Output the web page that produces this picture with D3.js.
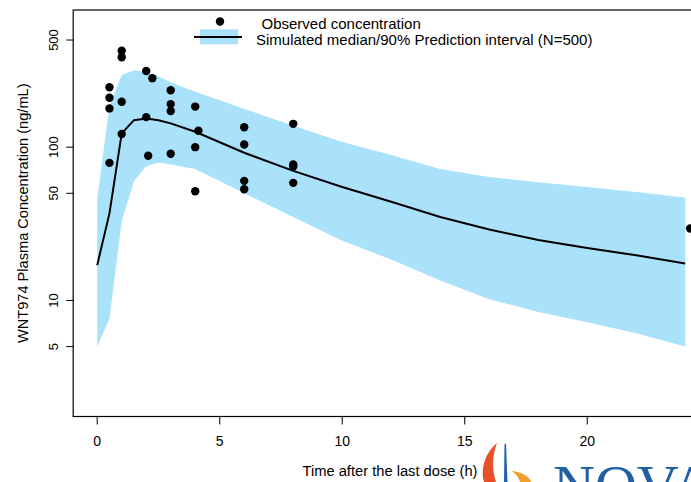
<!DOCTYPE html>
<html>
<head>
<meta charset="utf-8">
<script src="https://cdn.jsdelivr.net/npm/d3@7"></script>
<style>
body { margin: 0; background: #fff; }
text { font-family: "Liberation Sans", Arial, Helvetica, sans-serif; fill: #000; }
</style>
</head>
<body>
<div id="chart"></div>
<script>
// simulated profile (median + 90% PI)
var simTime   = [0, 0.5, 1, 1.5, 2, 2.5, 3, 4, 6, 8, 10, 12, 14, 16, 18, 20, 22, 24];
var simUpper  = [46, 185, 296, 318, 308, 290, 265, 230, 178, 138, 108, 89, 72, 64, 59, 55, 51, 47];
var simLower  = [5, 7.6, 33, 60, 75, 79, 77, 72, 50, 35, 24.5, 18.5, 13.5, 10.2, 8.4, 7.2, 6.1, 5];
var simMedian = [17, 37, 123, 150, 154, 150, 143, 126, 92, 70, 55, 44, 35, 29, 24.8, 22, 19.7, 17.4];

// observed points
var obsTime = [0.5, 0.5, 0.5, 0.5, 1, 1, 1, 1, 2, 2, 2.08, 2.25, 3, 3, 3, 3,
               4, 4.13, 4, 4, 6, 6, 6, 6, 8, 8, 8, 8, 24.2];
var obsConc = [246, 210, 179, 79, 426, 386, 198, 122, 314, 157, 88, 282, 235, 191, 172, 90.5,
               184, 128, 100, 51.6, 135, 104, 60.3, 53.2, 142, 77, 74.7, 58.5, 29.5];

var xTicks = [0, 5, 10, 15, 20];
var yTicks = [5, 10, 50, 100, 500];

var svgW = 691, svgH = 482;
// plot box (right edge falls outside the picture, as in the original)
var boxL = 73.2, boxR = 722, boxT = 10, boxB = 416.5;
var bandColor = "#aae1fb";

var svg = d3.select("#chart").append("svg")
    .attr("width", svgW)
    .attr("height", svgH);

var x = d3.scaleLinear().domain([-0.98, 25.5]).range([boxL, boxR]);
var y = d3.scaleLog().domain([1.75, 785]).range([boxB, boxT]);

svg.append("clipPath").attr("id", "plotclip")
  .append("rect")
    .attr("x", boxL).attr("y", boxT)
    .attr("width", boxR - boxL).attr("height", boxB - boxT);

var sim = simTime.map(function(t, i) {
  return {t: t, hi: simUpper[i], lo: simLower[i], med: simMedian[i]};
});

var plot = svg.append("g").attr("clip-path", "url(#plotclip)");

plot.append("path")
    .datum(sim)
    .attr("fill", bandColor)
    .attr("d", d3.area()
      .x(function(d) { return x(d.t); })
      .y0(function(d) { return y(d.lo); })
      .y1(function(d) { return y(d.hi); }));

plot.append("path")
    .datum(sim)
    .attr("fill", "none")
    .attr("stroke", "#000")
    .attr("stroke-width", 2)
    .attr("d", d3.line()
      .x(function(d) { return x(d.t); })
      .y(function(d) { return y(d.med); }));

plot.selectAll("circle.obs")
    .data(obsTime)
    .enter().append("circle")
    .attr("class", "obs")
    .attr("cx", function(d) { return x(d); })
    .attr("cy", function(d, i) { return y(obsConc[i]); })
    .attr("r", 4.2)
    .attr("fill", "#000");

// box
svg.append("rect")
    .attr("x", boxL).attr("y", boxT)
    .attr("width", boxR - boxL).attr("height", boxB - boxT)
    .attr("fill", "none")
    .attr("stroke", "#000")
    .attr("stroke-width", 1.2);

// x axis
var xAxis = svg.append("g");
xAxis.selectAll("line")
    .data(xTicks).enter().append("line")
    .attr("x1", function(d) { return x(d); })
    .attr("x2", function(d) { return x(d); })
    .attr("y1", boxB).attr("y2", boxB + 8)
    .attr("stroke", "#000");
xAxis.selectAll("text")
    .data(xTicks).enter().append("text")
    .attr("x", function(d) { return x(d); })
    .attr("y", 446)
    .attr("text-anchor", "middle")
    .style("font-size", "14px")
    .text(function(d) { return d; });

// y axis
var yAxis = svg.append("g");
yAxis.selectAll("line")
    .data(yTicks).enter().append("line")
    .attr("x1", boxL - 7).attr("x2", boxL)
    .attr("y1", function(d) { return y(d); })
    .attr("y2", function(d) { return y(d); })
    .attr("stroke", "#000");
yAxis.selectAll("text")
    .data(yTicks).enter().append("text")
    .attr("transform", function(d) { return "translate(57.5," + y(d) + ") rotate(-90)"; })
    .attr("text-anchor", "middle")
    .style("font-size", "13px")
    .text(function(d) { return d; });

// axis titles
svg.append("text")
    .attr("x", 390).attr("y", 476)
    .attr("text-anchor", "middle")
    .style("font-size", "14.7px")
    .text("Time after the last dose (h)");

svg.append("text")
    .attr("transform", "translate(28," + ((boxT + boxB) / 2) + ") rotate(-90)")
    .attr("text-anchor", "middle")
    .style("font-size", "14.6px")
    .text("WNT974 Plasma Concentration (ng/mL)");

// legend
var legend = svg.append("g");
legend.append("circle").attr("cx", 220).attr("cy", 21.5).attr("r", 4.2).attr("fill", "#000");
legend.append("rect").attr("x", 200).attr("y", 29.3).attr("width", 38).attr("height", 15).attr("fill", bandColor);
legend.append("line").attr("x1", 194).attr("x2", 242).attr("y1", 37).attr("y2", 37)
    .attr("stroke", "#000").attr("stroke-width", 2);
legend.append("text").attr("x", 261.5).attr("y", 29.3).style("font-size", "15px")
    .text("Observed concentration");
legend.append("text").attr("x", 256).attr("y", 45).style("font-size", "15px")
    .text("Simulated median/90% Prediction interval (N=500)");

// watermark logo, bottom right (cut by the picture edge in the original too)
var logo = svg.append("g");
logo.append("path")
    .attr("d", "M484,482 C480,468 486,452 497,443 C492,456 492,470 496,482 Z")
    .attr("fill", "#e8502a");
logo.append("path")
    .attr("d", "M504,482 L504.5,445 L506,443 L507.5,482 Z")
    .attr("fill", "#1f63a8");
logo.append("path")
    .attr("d", "M512,471 C522,472 530,477 531,482 L520,482 C519,478 516,474 512,471 Z")
    .attr("fill", "#f0a02a");
logo.append("text")
    .attr("x", 553).attr("y", 505)
    .style("font-family", "'Liberation Serif', 'DejaVu Serif', serif")
    .style("font-size", "58px")
    .style("fill", "#1f5fa3")
    .text("NOVA");
</script>
</body>
</html>
